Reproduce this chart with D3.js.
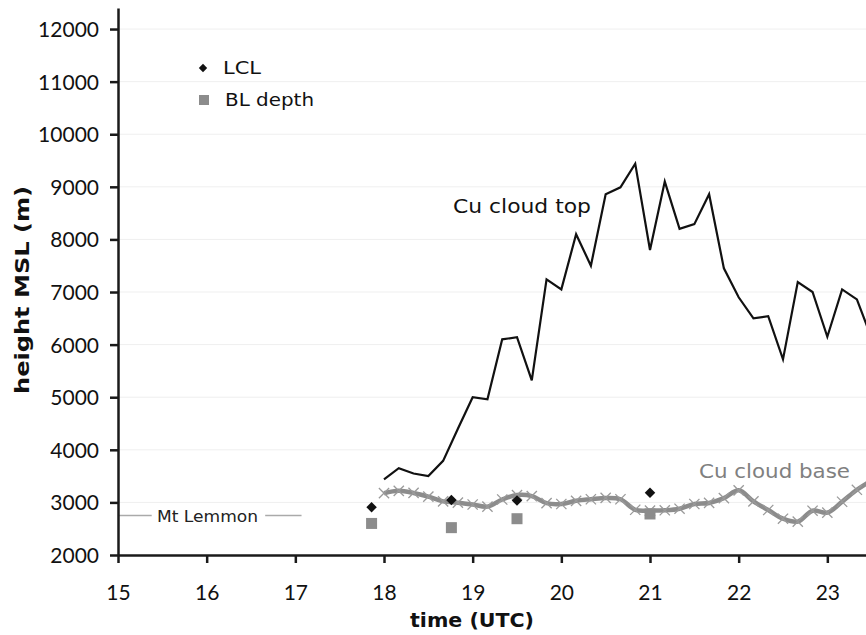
<!DOCTYPE html>
<html>
<head>
<meta charset="utf-8">
<script src="https://cdn.jsdelivr.net/npm/d3@7"></script>
<style>
  html, body { margin: 0; padding: 0; background: #ffffff; }
  svg { display: block; }
  .tick text { font-family: Lato, "Open Sans", sans-serif; font-size: 21px; fill: #111; }
  .comic { font-family: "Comic Sans MS", "DejaVu Sans", sans-serif; }
</style>
</head>
<body>
<svg id="chart" width="866" height="635"></svg>
<script>
// Ten-minute sample times (UTC) for the cumulus cloud observations
const sampleTimes = [
  "18:00","18:10","18:20","18:30","18:40","18:50",
  "19:00","19:10","19:20","19:30","19:40","19:50",
  "20:00","20:10","20:20","20:30","20:40","20:50",
  "21:00","21:10","21:20","21:30","21:40","21:50",
  "22:00","22:10","22:20","22:30","22:40","22:50",
  "23:00","23:10","23:20","23:30"
];

// Cu cloud top height MSL (m)
const cloudTop = [
  3440, 3650, 3550, 3500, 3790, 4400,
  5000, 4960, 6100, 6140, 5320, 7240,
  7050, 8100, 7500, 8860, 8990, 9440,
  7800, 9100, 8200, 8290, 8860, 7450,
  6900, 6500, 6540, 5720, 7190, 7000,
  6150, 7050, 6860, 6120
];

// Cu cloud base height MSL (m)
const cloudBase = [
  3175, 3220, 3180, 3110, 3020, 2995,
  2960, 2920, 3055, 3140, 3120, 2985,
  2970, 3030, 3060, 3085, 3060, 2860,
  2845, 2850, 2880, 2970, 2990, 3080,
  3230, 3020, 2855, 2690, 2635, 2842,
  2805, 3013, 3240, 3420
];

// Sounding times (decimal hours UTC) with LCL and boundary-layer depth (m)
const soundingTimes = [17.86, 18.76, 19.5, 21.0];
const lclHeights = [2910, 3045, 3035, 3185];
const blDepths = [2600, 2520, 2690, 2780];

// Mt Lemmon summit elevation (m)
const mtLemmon = 2750;

const xTicks = [15, 16, 17, 18, 19, 20, 21, 22, 23];
const yTicks = [2000, 3000, 4000, 5000, 6000, 7000, 8000, 9000, 10000, 11000, 12000];

const hours = sampleTimes.map(s => {
  const [h, m] = s.split(":").map(Number);
  return h + m / 60;
});

const svg = d3.select("#chart");

const x = d3.scaleLinear().domain([15, 24]).range([118, 916]);
const y = d3.scaleLinear().domain([2000, 12400]).range([555, 8]);

// faint horizontal gridlines
svg.append("g")
  .selectAll("line")
  .data(yTicks.slice(1))
  .join("line")
  .attr("x1", x(15)).attr("x2", 866)
  .attr("y1", d => y(d)).attr("y2", d => y(d))
  .attr("stroke", "#efefef").attr("stroke-width", 1);

// Mt Lemmon reference line, broken by its label
const lemY = y(mtLemmon);
svg.append("line")
  .attr("x1", x(15)).attr("x2", x(15.38))
  .attr("y1", lemY).attr("y2", lemY)
  .attr("stroke", "#aaaaaa").attr("stroke-width", 1.5);
svg.append("line")
  .attr("x1", x(16.66)).attr("x2", x(17.07))
  .attr("y1", lemY).attr("y2", lemY)
  .attr("stroke", "#aaaaaa").attr("stroke-width", 1.5);
svg.append("text")
  .attr("class", "comic")
  .attr("x", 157).attr("y", lemY + 6)
  .attr("font-size", 16)
  .attr("textLength", 101).attr("lengthAdjust", "spacingAndGlyphs")
  .attr("fill", "#222")
  .text("Mt Lemmon");

// axes
const xAxis = svg.append("g")
  .attr("transform", `translate(0,${y(2000)})`)
  .call(d3.axisBottom(x).tickValues(xTicks).tickFormat(d3.format("d"))
    .tickSize(8).tickSizeOuter(0).tickPadding(22));
const yAxis = svg.append("g")
  .attr("transform", `translate(${x(15)},0)`)
  .call(d3.axisLeft(y).tickValues(yTicks).tickFormat(d3.format("d"))
    .tickSize(8).tickSizeOuter(0).tickPadding(11));
[xAxis, yAxis].forEach(g => {
  g.select(".domain").attr("stroke", "#1a1a1a").attr("stroke-width", 2.5);
  g.selectAll(".tick line").attr("stroke", "#1a1a1a").attr("stroke-width", 2.5);
});
yAxis.selectAll(".tick text").attr("dy", "0.36em");

// cloud base: smoothed grey line with x markers
const baseData = hours.map((h, i) => ({ t: h, v: cloudBase[i] }));
svg.append("path")
  .datum(baseData)
  .attr("fill", "none")
  .attr("stroke", "#8c8c8c")
  .attr("stroke-width", 4.5)
  .attr("stroke-linejoin", "round")
  .attr("d", d3.line().x(d => x(d.t)).y(d => y(d.v)).curve(d3.curveCatmullRom.alpha(0.5)));
svg.append("g")
  .selectAll("path")
  .data(baseData)
  .join("path")
  .attr("transform", d => `translate(${x(d.t)},${y(d.v)})`)
  .attr("d", d3.symbol(d3.symbolTimes, 70))
  .attr("fill", "none")
  .attr("stroke", "#9a9a9a")
  .attr("stroke-width", 1.3);

// cloud top: black line
const topData = hours.map((h, i) => ({ t: h, v: cloudTop[i] }));
svg.append("path")
  .datum(topData)
  .attr("fill", "none")
  .attr("stroke", "#111")
  .attr("stroke-width", 2.2)
  .attr("stroke-linejoin", "miter")
  .attr("d", d3.line().x(d => x(d.t)).y(d => y(d.v)));

// BL depth squares
svg.append("g")
  .selectAll("rect")
  .data(soundingTimes.map((t, i) => ({ t, v: blDepths[i] })))
  .join("rect")
  .attr("x", d => x(d.t) - 5.5).attr("y", d => y(d.v) - 5.5)
  .attr("width", 11).attr("height", 11)
  .attr("fill", "#8c8c8c");

// LCL diamonds
svg.append("g")
  .selectAll("path")
  .data(soundingTimes.map((t, i) => ({ t, v: lclHeights[i] })))
  .join("path")
  .attr("transform", d => `translate(${x(d.t)},${y(d.v)})`)
  .attr("d", d3.symbol(d3.symbolDiamond2, 70))
  .attr("fill", "#111");

// legend
const legend = svg.append("g");
legend.append("path")
  .attr("transform", "translate(203,68)")
  .attr("d", d3.symbol(d3.symbolDiamond2, 45))
  .attr("fill", "#111");
legend.append("text")
  .attr("class", "comic").attr("x", 223).attr("y", 74)
  .attr("font-size", 18).attr("fill", "#111")
  .attr("textLength", 38).attr("lengthAdjust", "spacingAndGlyphs")
  .text("LCL");
legend.append("rect")
  .attr("x", 199).attr("y", 95).attr("width", 10).attr("height", 10)
  .attr("fill", "#8c8c8c");
legend.append("text")
  .attr("class", "comic").attr("x", 225).attr("y", 106)
  .attr("font-size", 18).attr("fill", "#111")
  .attr("textLength", 89).attr("lengthAdjust", "spacingAndGlyphs")
  .text("BL depth");

// series labels
svg.append("text")
  .attr("class", "comic").attr("x", 453).attr("y", 213)
  .attr("font-size", 20).attr("fill", "#111")
  .attr("textLength", 138).attr("lengthAdjust", "spacingAndGlyphs")
  .text("Cu cloud top");
svg.append("text")
  .attr("class", "comic").attr("x", 699).attr("y", 478)
  .attr("font-size", 20).attr("fill", "#808080")
  .attr("textLength", 151).attr("lengthAdjust", "spacingAndGlyphs")
  .text("Cu cloud base");

// axis titles
svg.append("text")
  .attr("class", "comic")
  .attr("x", 472).attr("y", 627)
  .attr("text-anchor", "middle")
  .attr("font-size", 20).attr("font-weight", "bold").attr("fill", "#111")
  .attr("textLength", 124).attr("lengthAdjust", "spacingAndGlyphs")
  .text("time (UTC)");
svg.append("text")
  .attr("class", "comic")
  .attr("transform", "translate(29,290) rotate(-90)")
  .attr("text-anchor", "middle")
  .attr("font-size", 20).attr("font-weight", "bold").attr("fill", "#111")
  .attr("textLength", 208).attr("lengthAdjust", "spacingAndGlyphs")
  .text("height MSL (m)");
</script>
</body>
</html>
